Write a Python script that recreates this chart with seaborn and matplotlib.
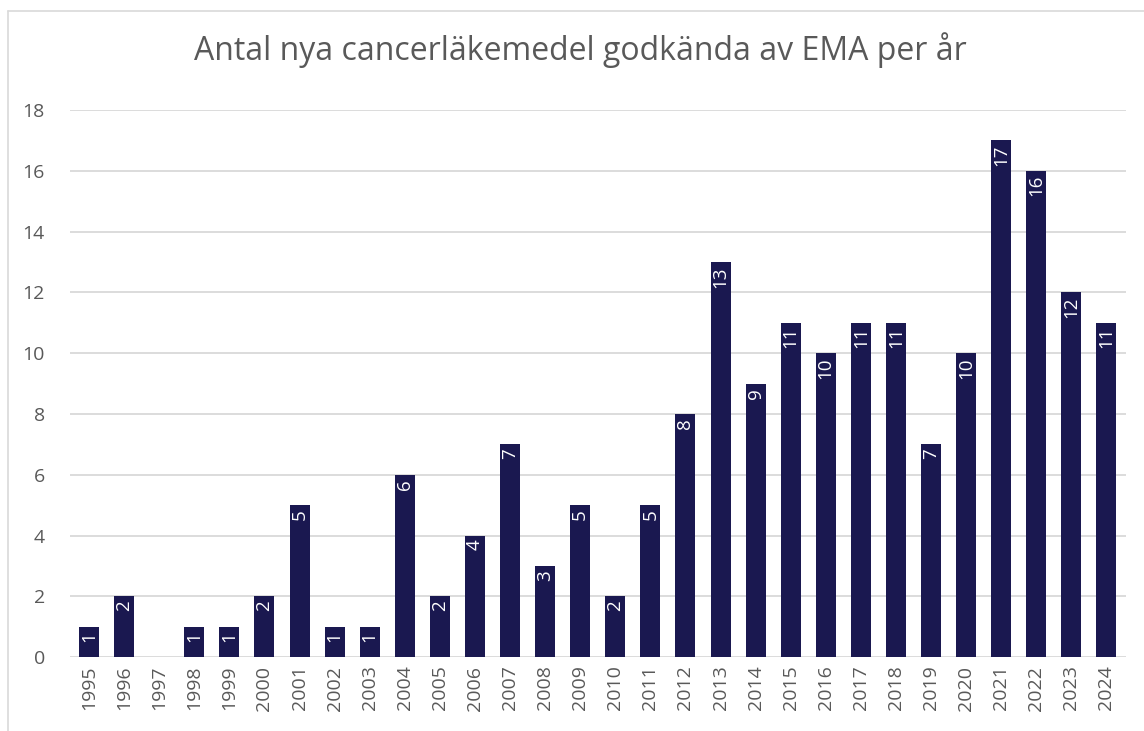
import pandas as pd
import matplotlib.pyplot as plt
import seaborn as sns
from matplotlib.lines import Line2D

# Data
years = ["1995", "1996", "1997", "1998", "1999", "2000", "2001", "2002", "2003", "2004",
         "2005", "2006", "2007", "2008", "2009", "2010", "2011", "2012", "2013", "2014",
         "2015", "2016", "2017", "2018", "2019", "2020", "2021", "2022", "2023", "2024"]
counts = [1, 2, 0, 1, 1, 2, 5, 1, 1, 6,
          2, 4, 7, 3, 5, 2, 5, 8, 13, 9,
          11, 10, 11, 11, 7, 10, 17, 16, 12, 11]
y_ticks = [0, 2, 4, 6, 8, 10, 12, 14, 16, 18]

df = pd.DataFrame({"year": years, "count": counts})

sns.set_style("white")
plt.rcParams["font.family"] = ["Open Sans", "DejaVu Sans"]

bar_color = "#1a1850"
text_gray = "#595959"

fig = plt.figure(figsize=(11.44, 7.31), dpi=100)
ax = fig.add_axes([0.061, 0.101, 0.923, 0.7485])

sns.barplot(x="year", y="count", data=df, color=bar_color, width=0.57,
            saturation=1, linewidth=0, ax=ax, zorder=3)

# value labels inside the bar top, rotated
for i, v in enumerate(counts):
    if v > 0:
        ax.annotate(str(v), (i, v), xytext=(0, -3), textcoords="offset points",
                    rotation=90, ha="center", va="top", color="white", fontsize=13.5,
                    zorder=4)

ax.set_ylim(0, 18)
ax.set_yticks(y_ticks)
ax.grid(axis="y", color="#d9d9d9", linewidth=1.3, zorder=0)
ax.set_axisbelow(True)
ax.set_xlim(-0.55, len(years) - 0.45)
for s in ax.spines.values():
    s.set_visible(False)
ax.tick_params(axis="x", rotation=90, labelsize=14, labelcolor=text_gray, length=0, pad=6)
ax.tick_params(axis="y", labelsize=14, labelcolor=text_gray, length=0, pad=18)
ax.set_xlabel("")
ax.set_ylabel("")

fig.text(0.507, 0.932, "Antal nya cancerläkemedel godkända av EMA per år",
         ha="center", va="center", fontsize=23, color=text_gray)

# outer chart frame (cropped at right and bottom)
fig.add_artist(Line2D([8 / 1144, 8 / 1144], [0, 1 - 11 / 731], color="#d9d9d9", linewidth=1.2))
fig.add_artist(Line2D([8 / 1144, 1], [1 - 11 / 731, 1 - 11 / 731], color="#d9d9d9", linewidth=1.2))

fig.savefig("out.png", dpi=100, facecolor="white")
